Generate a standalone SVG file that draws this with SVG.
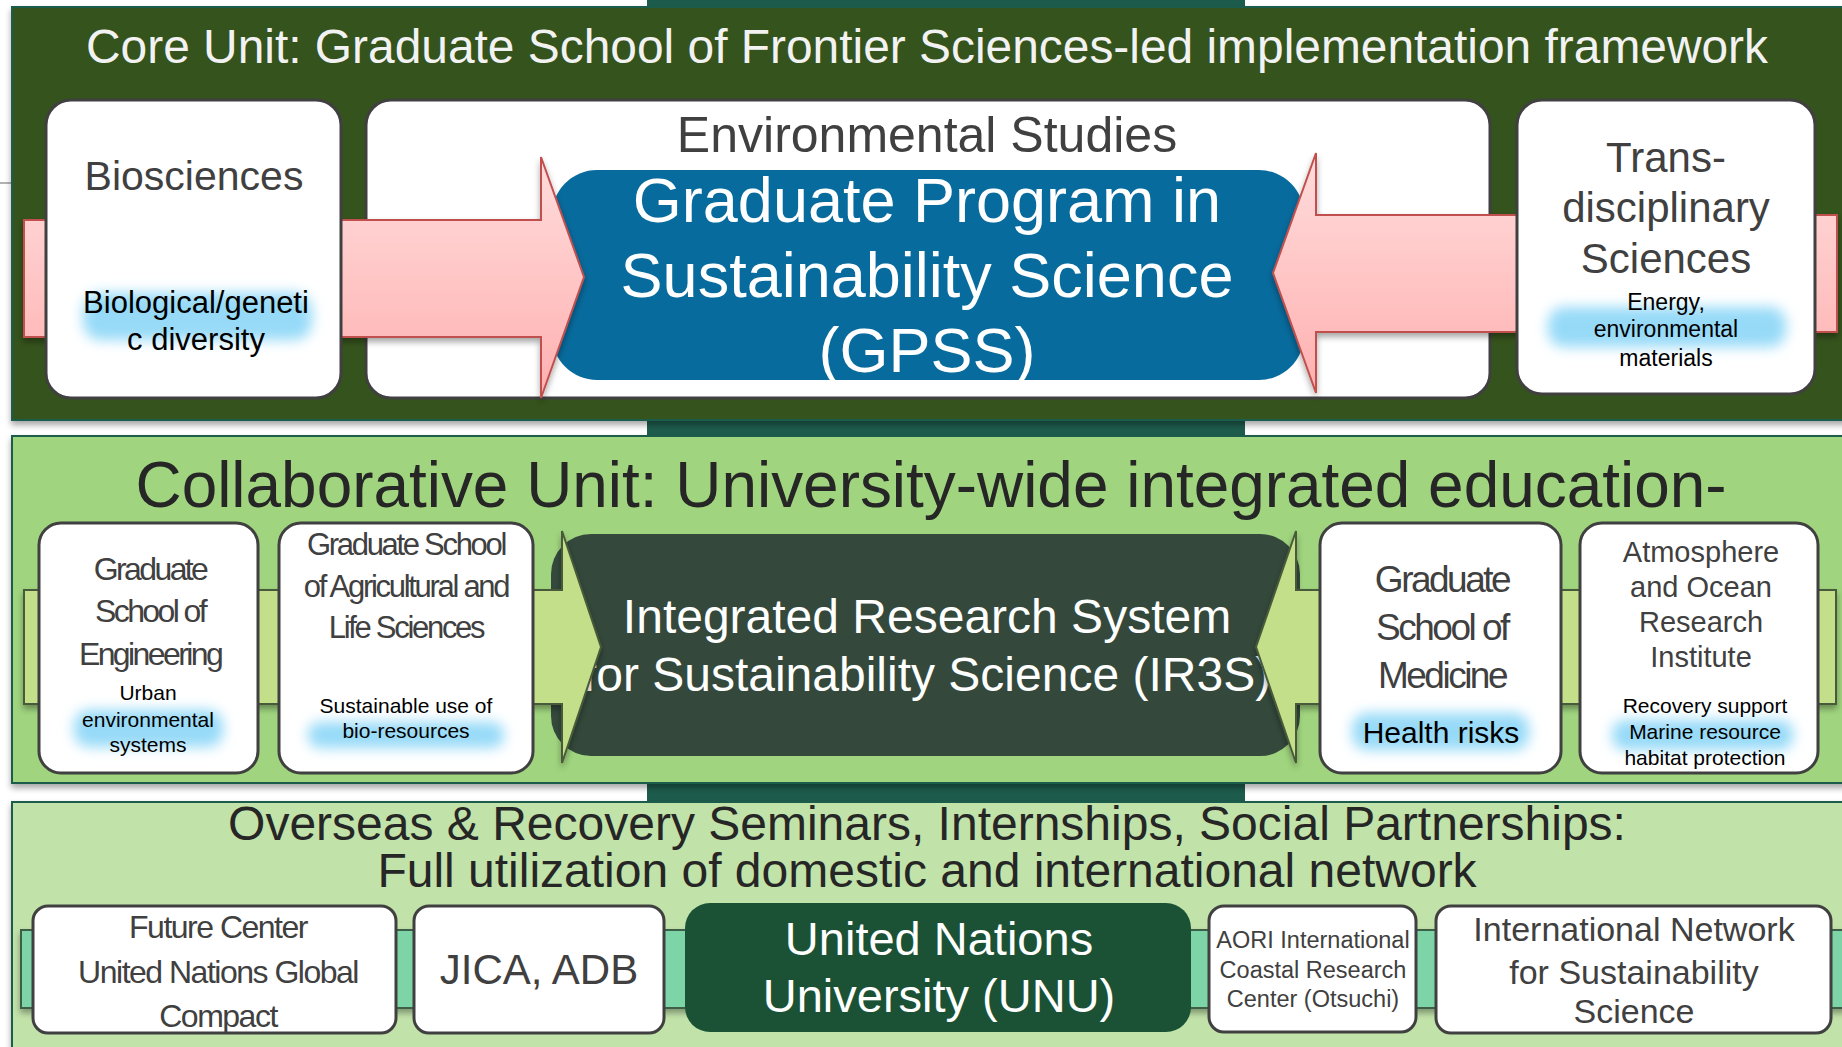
<svg xmlns="http://www.w3.org/2000/svg" width="1842" height="1047" viewBox="0 0 1842 1047">
<defs>
<style>
text{font-family:"Liberation Sans",Arial,sans-serif;text-anchor:middle}
.node{fill:#fff;stroke:#404040;stroke-width:3}
.g{fill:#404040}
.k{fill:#000}
.w{fill:#fff}
.glow{fill:#96daf8;filter:url(#blur)}
.pink{fill:url(#pinkGrad);stroke:#c0504d;stroke-width:2;filter:url(#shadow)}
.lg{fill:#c3df8a;stroke:#4a5a3a;stroke-width:2;filter:url(#shadow)}
.panel{stroke:#1f5b4b;stroke-width:2;filter:url(#shadow)}
</style>
<linearGradient id="pinkGrad" x1="0" y1="0" x2="0" y2="1"><stop offset="0" stop-color="#ffdcdc"/><stop offset="1" stop-color="#ffb0b0"/></linearGradient>
<filter id="blur" x="-20%" y="-60%" width="140%" height="220%"><feGaussianBlur stdDeviation="6.5"/></filter>
<filter id="shadow" x="-5%" y="-5%" width="110%" height="120%"><feDropShadow dx="0" dy="4" stdDeviation="3" flood-color="#000" flood-opacity="0.35"/></filter>
</defs>
<rect x="0" y="0" width="1842" height="1047" fill="#fff"/>
<rect x="647" y="0" width="598" height="1047" fill="#1d5c4c"/>
<line x1="0" y1="183" x2="12" y2="183" stroke="#999" stroke-width="1.5"/>

<g id="panel-core">
<rect class="panel" x="12" y="7" width="1840" height="413" fill="#34531f"/>
<text x="927" y="63" font-size="48" fill="#f2f2f2" textLength="1682" lengthAdjust="spacingAndGlyphs">Core Unit: Graduate School of Frontier Sciences-led implementation framework</text>
</g>
<g id="panel-collab">
<rect class="panel" x="12" y="436" width="1840" height="347" fill="#a0d47e"/>
<text x="931" y="507" font-size="64" fill="#262626" textLength="1591" lengthAdjust="spacingAndGlyphs">Collaborative Unit: University-wide integrated education-</text>
</g>
<g id="panel-overseas">
<rect class="panel" x="12" y="802" width="1840" height="260" fill="#c1e2a9"/>
<text x="927" y="840" font-size="48" fill="#262626">Overseas &amp; Recovery Seminars, Internships, Social Partnerships:</text>
<text x="927" y="887" font-size="48" fill="#262626">Full utilization of domestic and international network</text>
</g>

<g id="env-studies">
<rect class="node" x="366" y="100" width="1124" height="298" rx="25"/>
<text class="g" x="927" y="152" font-size="50">Environmental Studies</text>
</g>
<g id="gpss">
<rect x="552" y="170" width="752" height="210" rx="45" fill="#086b9d"/>
<text class="w" x="927" y="222" font-size="63">Graduate Program in</text>
<text class="w" x="927" y="297" font-size="63">Sustainability Science</text>
<text class="w" x="927" y="372" font-size="63">(GPSS)</text>
</g>
<g id="ir3s">
<rect x="551" y="534" width="749" height="222" rx="40" fill="#34493c"/>
<text class="w" x="927" y="633" font-size="48">Integrated Research System</text>
<text class="w" x="927" y="691" font-size="48">for Sustainability Science (IR3S)</text>
</g>

<g id="connectors">
<path class="pink" d="M24,220 H541 V157 L584,277 L541,398 V337 H24 Z"/>
<path class="pink" d="M1837,215 H1316 V153 L1273,273 L1316,393 V332 H1837 Z"/>
<path class="lg" d="M24,590 H562 V531 L601,647 L562,763 V704 H24 Z"/>
<path class="lg" d="M1836,590 H1296 V531 L1256,647 L1296,763 V704 H1836 Z"/>
<rect x="21" y="930" width="1830" height="78" fill="#7dd4a6" stroke="#3d5e4a" stroke-width="2" filter="url(#shadow)"/>
</g>

<g id="biosciences">
<rect class="node" x="46" y="100" width="295" height="298" rx="25"/>
<text class="g" x="194" y="190" font-size="41">Biosciences</text>
<rect class="glow" x="83" y="293" width="229" height="47" rx="18"/>
<text class="k" x="196" y="313" font-size="31">Biological/geneti</text>
<text class="k" x="196" y="350" font-size="31">c diversity</text>
</g>
<g id="transdisciplinary">
<rect class="node" x="1517" y="100" width="298" height="294" rx="25"/>
<text class="g" x="1666" y="172" font-size="42">Trans-</text>
<text class="g" x="1666" y="222" font-size="42">disciplinary</text>
<text class="g" x="1666" y="273" font-size="42">Sciences</text>
<rect class="glow" x="1548" y="307" width="238" height="40" rx="16"/>
<text class="k" x="1666" y="310" font-size="23">Energy,</text>
<text class="k" x="1666" y="337" font-size="23">environmental</text>
<text class="k" x="1666" y="366" font-size="23">materials</text>
</g>

<g id="engineering">
<rect class="node" x="39" y="523" width="219" height="250" rx="22"/>
<text class="g" x="150" y="580" font-size="32" letter-spacing="-2.6">Graduate</text>
<text class="g" x="150" y="622" font-size="32" letter-spacing="-2.6">School of</text>
<text class="g" x="150" y="665" font-size="32" letter-spacing="-2.6">Engineering</text>
<rect class="glow" x="74" y="710" width="149" height="37" rx="15"/>
<text class="k" x="148" y="700" font-size="21">Urban</text>
<text class="k" x="148" y="727" font-size="21">environmental</text>
<text class="k" x="148" y="752" font-size="21">systems</text>
</g>
<g id="agricultural">
<rect class="node" x="279" y="523" width="254" height="250" rx="22"/>
<text class="g" x="406" y="555" font-size="31" letter-spacing="-2.3">Graduate School</text>
<text class="g" x="406" y="597" font-size="31" letter-spacing="-2.3">of Agricultural and</text>
<text class="g" x="406" y="638" font-size="31" letter-spacing="-2.3">Life Sciences</text>
<rect class="glow" x="308" y="722" width="196" height="26" rx="12"/>
<text class="k" x="406" y="713" font-size="21">Sustainable use of</text>
<text class="k" x="406" y="738" font-size="21">bio-resources</text>
</g>
<g id="medicine">
<rect class="node" x="1320" y="523" width="241" height="250" rx="22"/>
<text class="g" x="1442" y="592" font-size="37" letter-spacing="-2.5">Graduate</text>
<text class="g" x="1442" y="640" font-size="37" letter-spacing="-2.5">School of</text>
<text class="g" x="1442" y="688" font-size="37" letter-spacing="-2.5">Medicine</text>
<rect class="glow" x="1352" y="713" width="177" height="37" rx="15"/>
<text class="k" x="1441" y="743" font-size="30">Health risks</text>
</g>
<g id="aori">
<rect class="node" x="1580" y="523" width="238" height="250" rx="22"/>
<text class="g" x="1701" y="562" font-size="29">Atmosphere</text>
<text class="g" x="1701" y="597" font-size="29">and Ocean</text>
<text class="g" x="1701" y="632" font-size="29">Research</text>
<text class="g" x="1701" y="667" font-size="29">Institute</text>
<rect class="glow" x="1612" y="720" width="181" height="30" rx="13"/>
<text class="k" x="1705" y="713" font-size="21">Recovery support</text>
<text class="k" x="1705" y="739" font-size="21">Marine resource</text>
<text class="k" x="1705" y="765" font-size="21">habitat protection</text>
</g>

<g id="future-center">
<rect class="node" x="33" y="906" width="363" height="127" rx="15"/>
<text class="g" x="218" y="938" font-size="32" letter-spacing="-1.5">Future Center</text>
<text class="g" x="218" y="983" font-size="32" letter-spacing="-1.5">United Nations Global</text>
<text class="g" x="218" y="1027" font-size="32" letter-spacing="-1.5">Compact</text>
</g>
<g id="jica">
<rect class="node" x="414" y="906" width="250" height="127" rx="15"/>
<text class="g" x="539" y="984" font-size="42">JICA, ADB</text>
</g>
<g id="unu">
<rect x="685" y="903" width="506" height="129" rx="25" fill="#1b5236"/>
<text class="w" x="939" y="955" font-size="47">United Nations</text>
<text class="w" x="939" y="1012" font-size="47">University (UNU)</text>
</g>
<g id="aori-coastal">
<rect class="node" x="1209" y="906" width="207" height="126" rx="15"/>
<text class="g" x="1313" y="948" font-size="23.5">AORI International</text>
<text class="g" x="1313" y="978" font-size="23.5">Coastal Research</text>
<text class="g" x="1313" y="1007" font-size="23.5">Center (Otsuchi)</text>
</g>
<g id="intl-network">
<rect class="node" x="1436" y="906" width="395" height="127" rx="15"/>
<text class="g" x="1634" y="941" font-size="34">International Network</text>
<text class="g" x="1634" y="984" font-size="34">for Sustainability</text>
<text class="g" x="1634" y="1023" font-size="34">Science</text>
</g>
</svg>
